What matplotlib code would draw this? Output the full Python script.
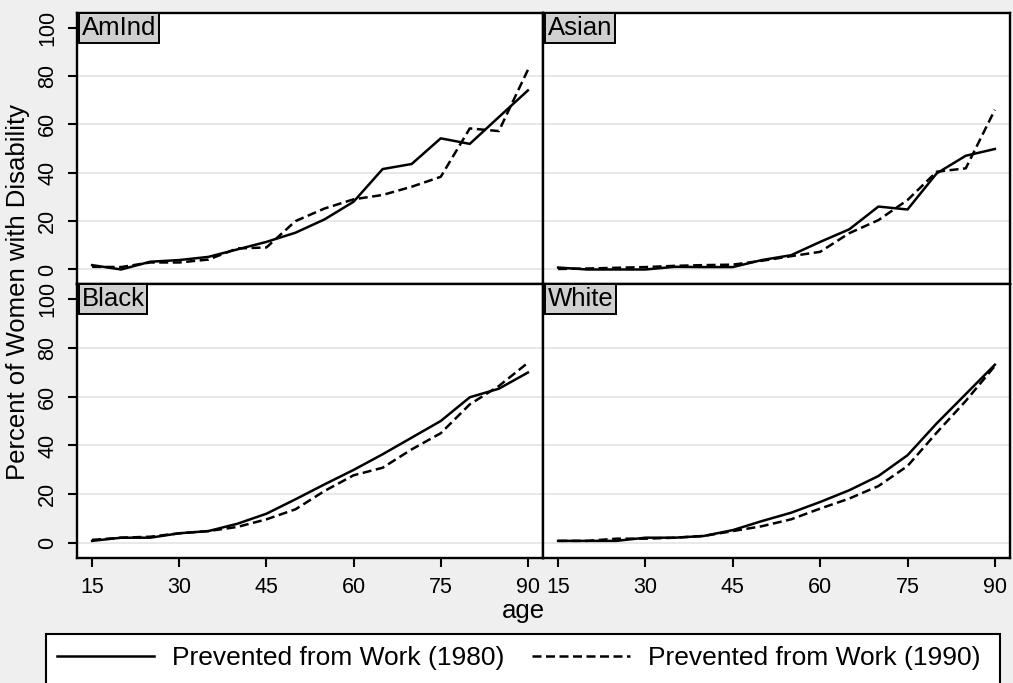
import matplotlib
matplotlib.use('Agg')
import matplotlib.pyplot as plt
from matplotlib.lines import Line2D
from matplotlib.patches import Rectangle

plt.rcParams['font.family'] = ['Liberation Sans', 'DejaVu Sans']

ages = [15, 20, 25, 30, 35, 40, 45, 50, 55, 60, 65, 70, 75, 80, 85, 90]

# percent prevented from work
amind_1980 = [1.8, 0.0, 3.2, 3.9, 5.2, 8.3, 11.4, 15.2, 20.7, 28.0, 41.5, 43.6, 54.2, 51.9, 63.0, 74.0]
amind_1990 = [1.1, 1.0, 2.9, 2.9, 4.1, 8.7, 9.1, 20.0, 25.2, 29.0, 30.8, 34.2, 38.3, 58.3, 57.2, 82.5]
asian_1980 = [0.8, 0.0, 0.0, 0.0, 1.1, 1.0, 1.0, 3.9, 5.9, 11.4, 16.6, 26.0, 24.8, 39.7, 47.0, 49.8]
asian_1990 = [0.2, 0.4, 0.7, 1.0, 1.5, 1.8, 2.0, 3.6, 5.5, 7.3, 15.0, 20.4, 28.7, 40.4, 41.8, 66.0]
black_1980 = [1.0, 2.3, 2.3, 4.1, 5.0, 8.0, 12.1, 18.0, 24.1, 30.0, 36.4, 43.2, 50.0, 59.7, 63.2, 69.8]
black_1990 = [1.4, 2.3, 2.7, 4.1, 5.0, 6.7, 9.8, 13.9, 21.4, 27.8, 30.9, 38.4, 45.0, 56.8, 64.3, 73.8]
white_1980 = [1.0, 1.0, 1.0, 2.3, 2.3, 3.0, 5.4, 9.1, 12.5, 16.9, 21.7, 27.5, 36.0, 49.0, 61.0, 73.0]
white_1990 = [1.0, 1.0, 1.9, 1.9, 2.3, 3.0, 5.0, 7.0, 9.8, 14.2, 18.3, 23.4, 31.6, 45.2, 58.2, 72.5]

groups = ['AmInd', 'Asian', 'Black', 'White']
series_1980 = [amind_1980, asian_1980, black_1980, white_1980]
series_1990 = [amind_1990, asian_1990, black_1990, white_1990]

x_ticks = [15, 30, 45, 60, 75, 90]
y_ticks = [0, 20, 40, 60, 80, 100]

W, H = 1013, 683
fig = plt.figure(figsize=(W / 100, H / 100), dpi=100)
fig.patch.set_facecolor('#efefef')

# panel boxes in pixels: (left, top, right, bottom)
boxes = [(77, 13, 543, 284), (543, 13, 1010, 284),
         (77, 284, 543, 558), (543, 284, 1010, 558)]

lw = 1.8
dash = (0, (3.6, 1.8))
for i, (name, a, b) in enumerate(zip(groups, series_1980, series_1990)):
    l, t, r, btm = boxes[i]
    ax = fig.add_axes([l / W, 1 - btm / H, (r - l) / W, (btm - t) / H])
    ax.set_facecolor('white')
    ax.set_xlim(12.4, 92.6)
    ax.set_ylim(-6.0, 106.0)
    for g in [0, 20, 40, 60, 80]:
        ax.axhline(g, color='#e6e6e6', lw=1.3, zorder=0)
    ax.plot(ages, a, color='black', lw=lw, ls='-')
    ax.plot(ages, b, color='black', lw=lw, ls=dash)
    for s in ax.spines.values():
        s.set_linewidth(1.7)
    ax.set_xticks(x_ticks)
    ax.set_yticks(y_ticks)
    ax.tick_params(length=6.5, width=1.5, labelsize=15.5, pad=7)
    if i % 2 == 0:
        ax.set_yticklabels([str(v) for v in y_ticks], rotation=90, va='center')
    else:
        ax.tick_params(axis='y', left=False, labelleft=False)
    if i < 2:
        ax.tick_params(axis='x', bottom=False, labelbottom=False)
    ax.annotate(name, xy=(0, 1), xycoords='axes fraction',
                xytext=(3.5, -2.2), textcoords='offset points',
                ha='left', va='top', fontsize=18.5, zorder=5,
                bbox=dict(boxstyle='square,pad=0.1', facecolor='#d0d0d0',
                          edgecolor='black', lw=1.4))

fig.text(18 / W, 1 - 292 / H, 'Percent of Women with Disability', rotation=90,
         ha='center', va='center', fontsize=18.5)
fig.text(523 / W, 1 - 611 / H, 'age', ha='center', va='center', fontsize=18.5)

# legend box runs past the bottom edge
fig.patches.append(Rectangle((46 / W, -0.05), (1000 - 46) / W, 0.05 + (683 - 634) / H,
                             transform=fig.transFigure, facecolor='white',
                             edgecolor='black', lw=1.5, zorder=1))
handles = [Line2D([], [], color='black', lw=lw, ls='-'),
           Line2D([], [], color='black', lw=lw, ls=dash)]
fig.legend(handles, ['Prevented from Work (1980)', 'Prevented from Work (1990)'],
           loc='center left', bbox_to_anchor=(46 / W, 1 - 658 / H), ncol=2,
           frameon=False, fontsize=19, handlelength=3.7, handletextpad=0.68,
           columnspacing=1.06, borderaxespad=0)

fig.savefig('out.png', dpi=100, facecolor=fig.get_facecolor())
